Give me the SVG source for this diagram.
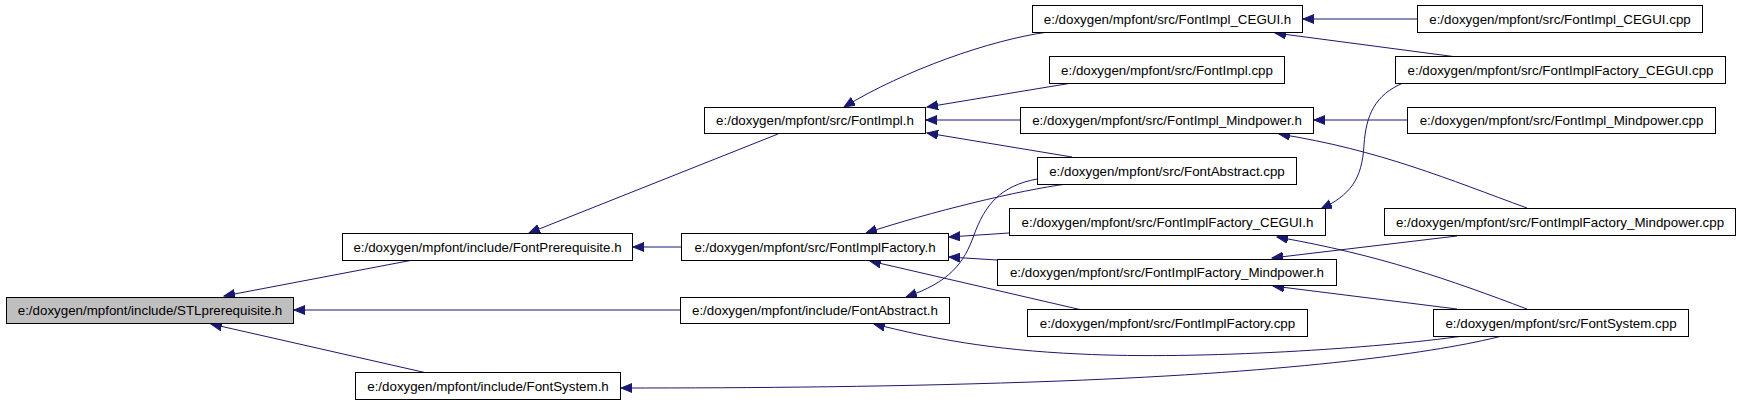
<svg xmlns="http://www.w3.org/2000/svg" width="1741" height="404" viewBox="0 0 1741 404">
<style>
  .n rect { fill: #ffffff; stroke: #000000; stroke-width: 1; }
  .n.root rect { fill: #bfbfbf; }
  .n text { font-family: "Liberation Sans", Arial, sans-serif; font-size: 13.33px; fill: #000000; text-anchor: middle; }
  .e path { fill: none; stroke: #191970; stroke-width: 1; marker-end: url(#arr); }
</style>
<defs>
  <marker id="arr" markerUnits="userSpaceOnUse" markerWidth="12" markerHeight="10" refX="11" refY="4.5" orient="auto">
    <path d="M0,0 L11,4.5 L0,9 Z" fill="#191970" stroke="#191970" stroke-width="1"/>
  </marker>
</defs>
<rect width="1741" height="404" fill="#ffffff"/>

<g id="edges" class="e">
  <path d="M413,260 L224,296"/>
  <path d="M680,310 L294,310"/>
  <path d="M427,373 L211,324"/>
  <path d="M778,134 L529,233"/>
  <path d="M681,247 L633,247"/>
  <path d="M1048,32 C990,40 905,70 844,107"/>
  <path d="M1072,83 L927,107"/>
  <path d="M1020,120 L926,120"/>
  <path d="M1072,157 L927,133"/>
  <path d="M1067,184 C1020,190 930,212 866,233"/>
  <path d="M1009,233 L949,237"/>
  <path d="M997,260 L949,257"/>
  <path d="M1082,310 L870,261"/>
  <path d="M1037,179 C1000,186 985,205 974,235 C964,263 950,282 906,297"/>
  <path d="M1463,336 C1380,348 1200,360 1080,354 C990,350 930,338 874,324"/>
  <path d="M1502,336 C1440,352 1300,372 1060,381 C900,387 750,388 621,388"/>
  <path d="M1417,19 L1303,19"/>
  <path d="M1457,57 L1275,33"/>
  <path d="M1403,83 C1375,95 1366,115 1364,145 C1362,180 1350,195 1321,209"/>
  <path d="M1407,120 L1314,120"/>
  <path d="M1527,208 C1450,180 1380,150 1279,134"/>
  <path d="M1457,236 L1272,258"/>
  <path d="M1527,309 C1450,280 1380,255 1277,237"/>
  <path d="M1457,309 L1273,286"/>
</g>

<g id="n_stlprerequisite_h" class="n root"><rect x="6.5" y="297.5" width="287" height="26"/><text x="150" y="315">e:/doxygen/mpfont/include/STLprerequisite.h</text></g>
<g id="n_fontprerequisite_h" class="n"><rect x="342.5" y="233.5" width="290" height="27"/><text x="487.5" y="251.5">e:/doxygen/mpfont/include/FontPrerequisite.h</text></g>
<g id="n_fontsystem_h" class="n"><rect x="355.5" y="372.5" width="265" height="27"/><text x="488" y="390.5">e:/doxygen/mpfont/include/FontSystem.h</text></g>
<g id="n_fontimpl_h" class="n"><rect x="704.5" y="107.5" width="221" height="26"/><text x="815" y="125">e:/doxygen/mpfont/src/FontImpl.h</text></g>
<g id="n_fontimplfactory_h" class="n"><rect x="681.5" y="233.5" width="267" height="27"/><text x="815" y="251.5">e:/doxygen/mpfont/src/FontImplFactory.h</text></g>
<g id="n_fontabstract_h" class="n"><rect x="680.5" y="297.5" width="269" height="26"/><text x="815" y="315">e:/doxygen/mpfont/include/FontAbstract.h</text></g>
<g id="n_fontimpl_cegui_h" class="n"><rect x="1032.5" y="5.5" width="270" height="27"/><text x="1167.5" y="23.5">e:/doxygen/mpfont/src/FontImpl_CEGUI.h</text></g>
<g id="n_fontimpl_cpp" class="n"><rect x="1049.5" y="56.5" width="235" height="27"/><text x="1167" y="74.5">e:/doxygen/mpfont/src/FontImpl.cpp</text></g>
<g id="n_fontimpl_mindpower_h" class="n"><rect x="1020.5" y="107.5" width="293" height="26"/><text x="1167" y="125">e:/doxygen/mpfont/src/FontImpl_Mindpower.h</text></g>
<g id="n_fontabstract_cpp" class="n"><rect x="1037.5" y="157.5" width="259" height="27"/><text x="1167" y="175.5">e:/doxygen/mpfont/src/FontAbstract.cpp</text></g>
<g id="n_fontimplfactory_cegui_h" class="n"><rect x="1009.5" y="208.5" width="316" height="27"/><text x="1167.5" y="226.5">e:/doxygen/mpfont/src/FontImplFactory_CEGUI.h</text></g>
<g id="n_fontimplfactory_mindpower_h" class="n"><rect x="997.5" y="259.5" width="339" height="26"/><text x="1167" y="277">e:/doxygen/mpfont/src/FontImplFactory_Mindpower.h</text></g>
<g id="n_fontimplfactory_cpp" class="n"><rect x="1027.5" y="309.5" width="280" height="27"/><text x="1167.5" y="327.5">e:/doxygen/mpfont/src/FontImplFactory.cpp</text></g>
<g id="n_fontimpl_cegui_cpp" class="n"><rect x="1417.5" y="5.5" width="285" height="27"/><text x="1560" y="23.5">e:/doxygen/mpfont/src/FontImpl_CEGUI.cpp</text></g>
<g id="n_fontimplfactory_cegui_cpp" class="n"><rect x="1395.5" y="56.5" width="330" height="27"/><text x="1560.5" y="74.5">e:/doxygen/mpfont/src/FontImplFactory_CEGUI.cpp</text></g>
<g id="n_fontimpl_mindpower_cpp" class="n"><rect x="1407.5" y="107.5" width="308" height="26"/><text x="1561.5" y="125">e:/doxygen/mpfont/src/FontImpl_Mindpower.cpp</text></g>
<g id="n_fontimplfactory_mindpower_cpp" class="n"><rect x="1384.5" y="208.5" width="351" height="27"/><text x="1560" y="226.5">e:/doxygen/mpfont/src/FontImplFactory_Mindpower.cpp</text></g>
<g id="n_fontsystem_cpp" class="n"><rect x="1433.5" y="309.5" width="255" height="27"/><text x="1561" y="327.5">e:/doxygen/mpfont/src/FontSystem.cpp</text></g>
</svg>
